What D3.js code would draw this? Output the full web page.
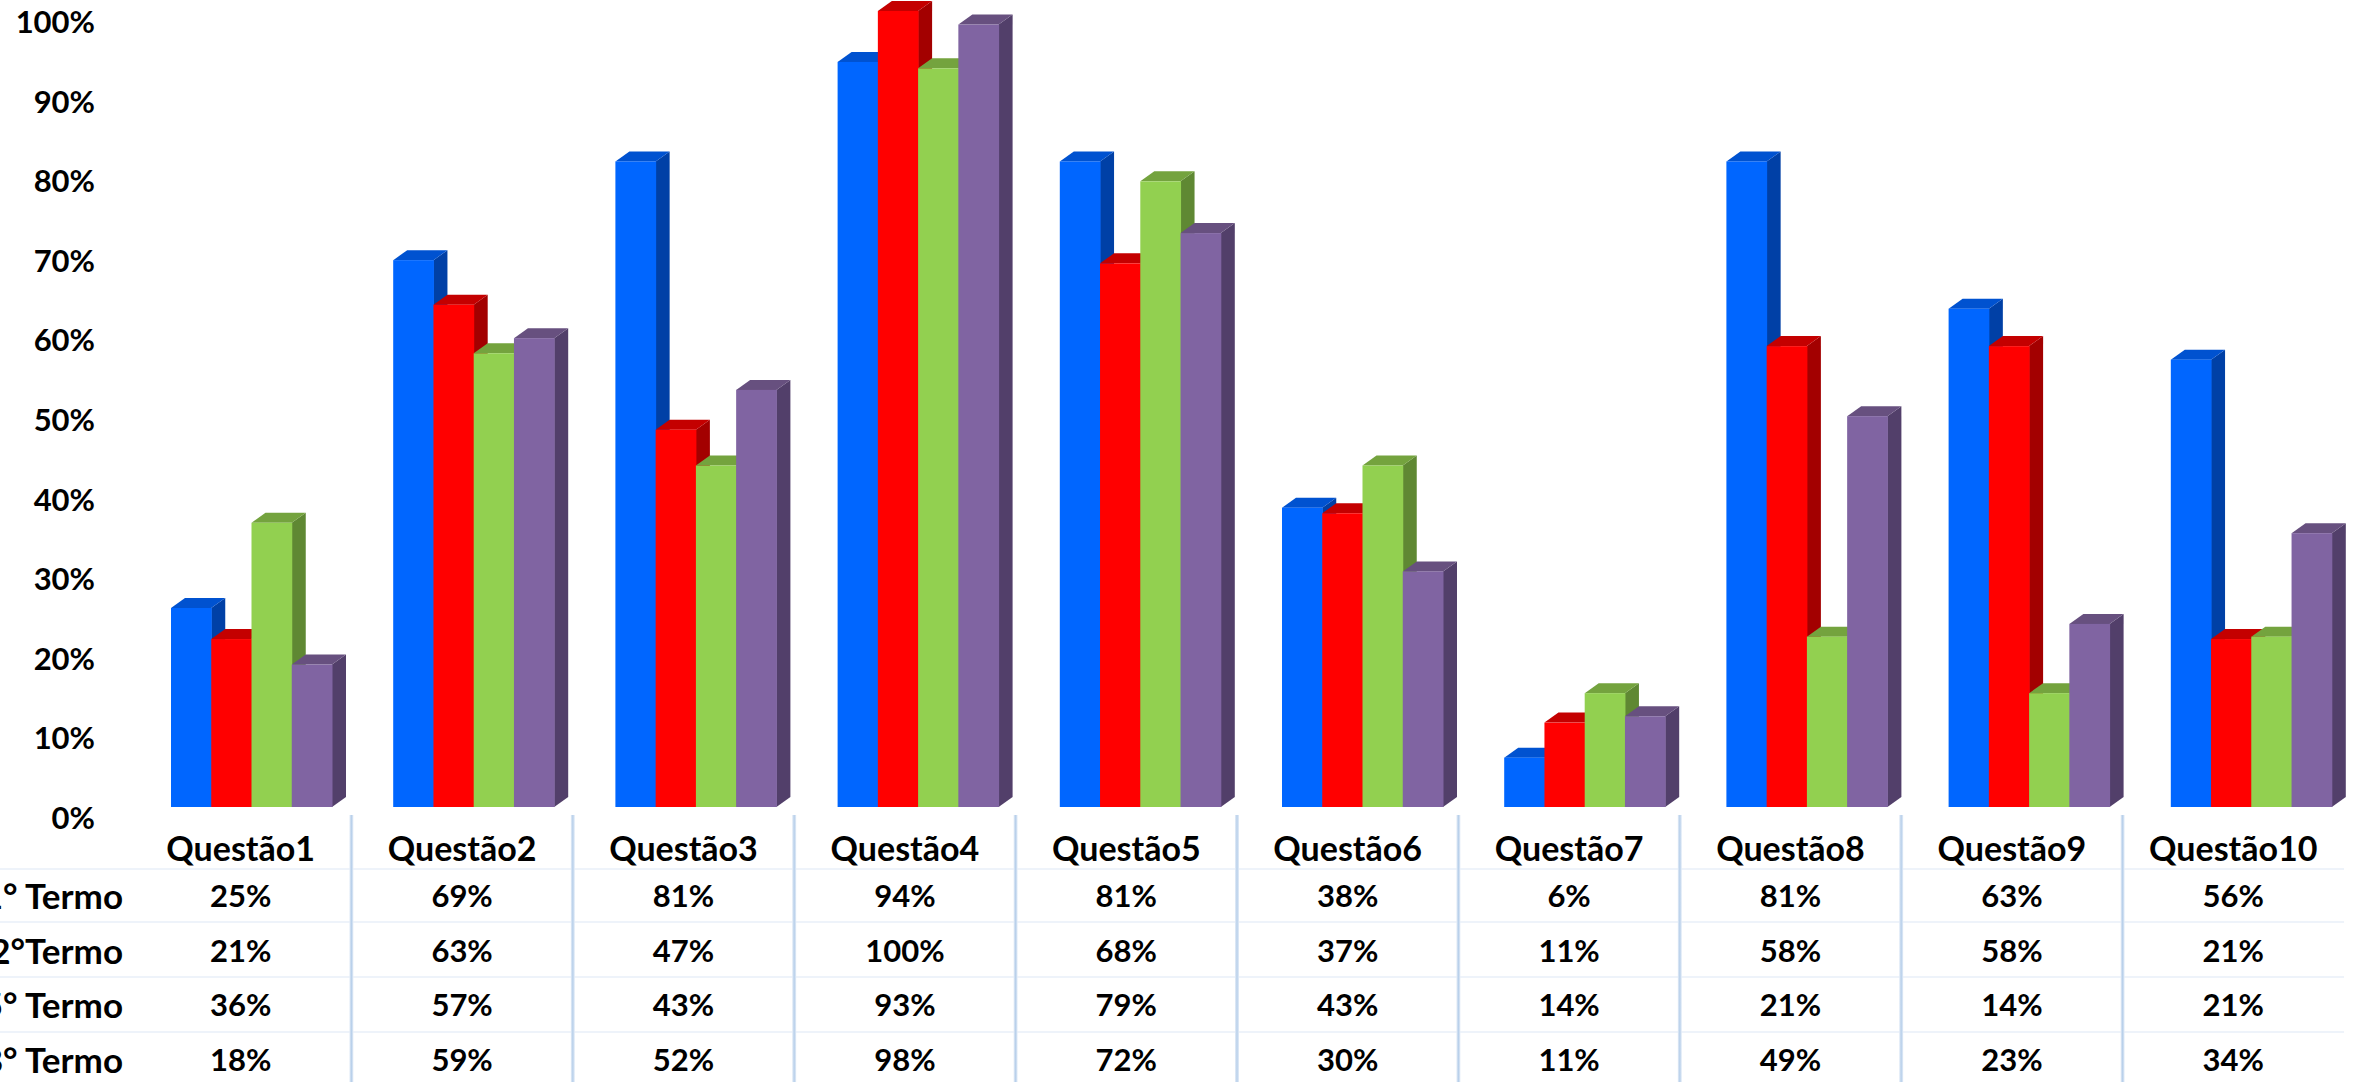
<!DOCTYPE html>
<html>
<head>
<meta charset="utf-8">
<script src="https://cdn.jsdelivr.net/npm/d3@7"></script>
<style>
  html, body { margin: 0; padding: 0; background: #ffffff; overflow: hidden; }
  svg { display: block; }
  text { font-family: "Lato", "Liberation Sans", sans-serif; font-weight: 700; fill: #000; }
</style>
</head>
<body>
<svg id="chart" width="2356" height="1082"></svg>
<script>
const categories = ["Questão1","Questão2","Questão3","Questão4","Questão5","Questão6","Questão7","Questão8","Questão9","Questão10"];
const seriesNames = ["1° Termo","2°Termo","5° Termo","8° Termo"];
// percentages (table shows them rounded)
const termo1 = [25.0, 68.7, 81.1, 93.6, 81.1, 37.6, 6.2, 81.1, 62.6, 56.2];
const termo2 = [21.1, 63.1, 47.4, 100.0, 68.3, 36.9, 10.6, 57.9, 57.9, 21.1];
const termo3 = [35.7, 57.0, 42.9, 92.8, 78.6, 42.9, 14.3, 21.4, 14.3, 21.4];
const termo4 = [17.9, 58.9, 52.4, 98.3, 72.1, 29.6, 11.4, 49.1, 23.0, 34.4];
const yTicks = [0, 10, 20, 30, 40, 50, 60, 70, 80, 90, 100];

const seriesValues = [termo1, termo2, termo3, termo4];
const colors = [
  {front: "#0066ff", top: "#0052d0", side: "#0040a6"},
  {front: "#ff0000", top: "#c40000", side: "#a30000"},
  {front: "#92d050", top: "#74a33e", side: "#5f8833"},
  {front: "#8064a2", top: "#67507f", side: "#523f6a"}
];
const fmtPct = d => d3.format(".0f")(d) + "%";

const svg = d3.select("#chart");
const W = 2356, H = 1082;

// scales
const y = d3.scaleLinear().domain([0, 100]).range([807, 11]);
const xPlot = d3.scaleBand().domain(categories).range([130, 2352]).padding(0);
const xTable = d3.scaleBand().domain(categories).range([130, 2344]).padding(0);
const xSeries = d3.scaleBand().domain(d3.range(4)).range([41, 202]).padding(0);
const depthX = 14, depthY = -10;

// y axis labels
svg.append("g").selectAll("text").data(yTicks).join("text")
  .attr("x", 95)
  .attr("y", d => y(d) + 10)
  .attr("text-anchor", "end")
  .attr("dominant-baseline", "central")
  .attr("font-size", 31)
  .text(d => d + "%");

// bars
const barsG = svg.append("g");
categories.forEach((cat, ci) => {
  const g = barsG.append("g");
  seriesValues.forEach((vals, si) => {
    const v = vals[ci];
    const x0 = xPlot(cat) + xSeries(si);
    const x1 = x0 + xSeries.bandwidth();
    const yt = y(v), yb = y(0);
    const c = colors[si];
    g.append("polygon")
      .attr("points", [[x1, yt], [x1 + depthX, yt + depthY], [x1 + depthX, yb + depthY], [x1, yb]].map(p => p.join(",")).join(" "))
      .attr("fill", c.side);
    g.append("polygon")
      .attr("points", [[x0, yt], [x0 + depthX, yt + depthY], [x1 + depthX, yt + depthY], [x1, yt]].map(p => p.join(",")).join(" "))
      .attr("fill", c.top);
    g.append("rect")
      .attr("x", x0).attr("y", yt)
      .attr("width", xSeries.bandwidth() + 0.5)
      .attr("height", yb - yt)
      .attr("fill", c.front);
  });
});

// data table
const tableG = svg.append("g");
const headerY = 847;
const rowY = d3.scaleLinear().domain([0, 1]).range([895, 949.5]);
const lineYs = [869, 922, 977, 1032];

tableG.selectAll("line.h").data(lineYs).join("line")
  .attr("class", "h")
  .attr("x1", 0).attr("x2", xTable.range()[1])
  .attr("y1", d => d).attr("y2", d => d)
  .attr("stroke", "#eef3fa").attr("stroke-width", 2);

const defs = svg.append("defs");
const grad = defs.append("linearGradient").attr("id", "vgrad")
  .attr("x1", 0).attr("x2", 1).attr("y1", 0).attr("y2", 0);
grad.append("stop").attr("offset", "0%").attr("stop-color", "#e6eef8");
grad.append("stop").attr("offset", "50%").attr("stop-color", "#b7cfea");
grad.append("stop").attr("offset", "100%").attr("stop-color", "#e6eef8");
tableG.selectAll("rect.v").data(categories.slice(1)).join("rect")
  .attr("class", "v")
  .attr("x", d => xTable(d) - 2)
  .attr("y", 815)
  .attr("width", 4)
  .attr("height", H - 815)
  .attr("fill", "url(#vgrad)");

tableG.selectAll("text.head").data(categories).join("text")
  .attr("class", "head")
  .attr("x", d => xTable(d) + xTable.bandwidth() / 2)
  .attr("y", headerY)
  .attr("text-anchor", "middle")
  .attr("dominant-baseline", "central")
  .attr("font-size", 34)
  .text(d => d);

tableG.selectAll("text.rowlab").data(seriesNames).join("text")
  .attr("class", "rowlab")
  .attr("x", 123)
  .attr("y", (d, i) => rowY(i))
  .attr("text-anchor", "end")
  .attr("dominant-baseline", "central")
  .attr("font-size", 35)
  .text(d => d);

seriesValues.forEach((vals, si) => {
  tableG.append("g").selectAll("text").data(vals).join("text")
    .attr("x", (d, i) => xTable(categories[i]) + xTable.bandwidth() / 2)
    .attr("y", rowY(si))
    .attr("text-anchor", "middle")
    .attr("dominant-baseline", "central")
    .attr("font-size", 31)
    .text(d => fmtPct(d));
});
</script>
</body>
</html>
